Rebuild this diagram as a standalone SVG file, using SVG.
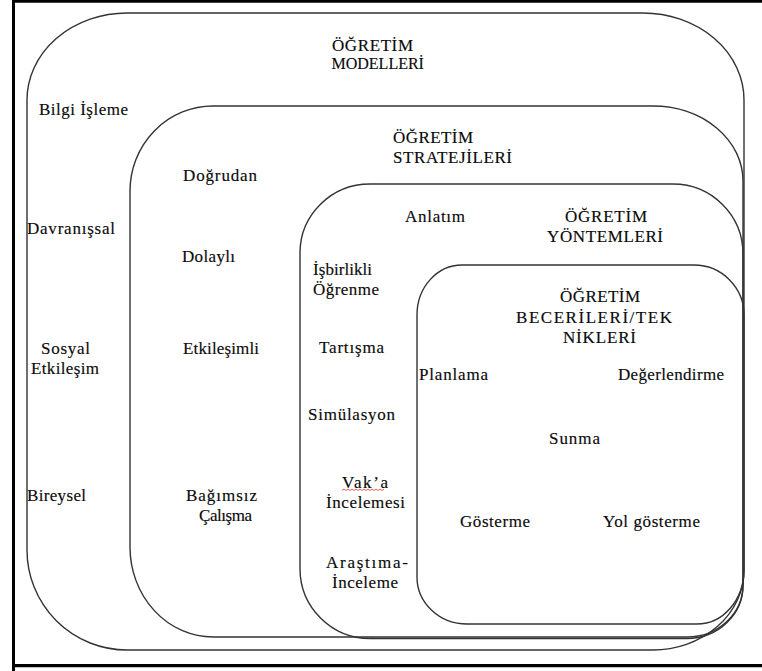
<svg xmlns="http://www.w3.org/2000/svg" width="762" height="671" viewBox="0 0 762 671">
<style>
.box{fill:none;stroke:#333;stroke-width:1.4}
text{font-family:"Liberation Serif","Times New Roman",serif;font-size:17px;fill:#0a0a0a;stroke:#0a0a0a;stroke-width:0.15}
</style>
<rect width="762" height="671" fill="#fff"/>
<g id="frame">
<path d="M13.5,671 V1.2 H765" fill="none" stroke="#000" stroke-width="3"/>
<path d="M12,665.6 H765" fill="none" stroke="#000" stroke-width="3.2"/>
</g>
<g id="modeller">
<path class="box" d="M127,13 H643 A101,87 0 0 1 744,100 V570 A91,80 0 0 1 653,650 H127 A100,100 0 0 1 27,550 V100 A100,87 0 0 1 127,13 Z"/>
<text x="332" y="51" textLength="81" lengthAdjust="spacing">ÖĞRETİM</text>
<text x="331.5" y="69" style="font-size:16px">MODELLERİ</text>
<text x="39" y="115" textLength="89" lengthAdjust="spacing">Bilgi İşleme</text>
<text x="27" y="234" textLength="88" lengthAdjust="spacing">Davranışsal</text>
<text x="41" y="354" textLength="49" lengthAdjust="spacing">Sosyal</text>
<text x="31" y="374" textLength="68" lengthAdjust="spacing">Etkileşim</text>
<text x="27" y="501" textLength="59" lengthAdjust="spacing">Bireysel</text>
</g>
<g id="stratejiler">
<path class="box" d="M213,106 H653 A90,75 0 0 1 743,181 V585 A56,52 0 0 1 687,637 H213 A83,90 0 0 1 130,547 V191 A83,85 0 0 1 213,106 Z"/>
<text x="393" y="143" textLength="80" lengthAdjust="spacing">ÖĞRETİM</text>
<text x="393" y="163" textLength="119" lengthAdjust="spacing">STRATEJİLERİ</text>
<text x="183" y="181" textLength="74" lengthAdjust="spacing">Doğrudan</text>
<text x="182" y="262" textLength="53" lengthAdjust="spacing">Dolaylı</text>
<text x="183" y="354" textLength="76" lengthAdjust="spacing">Etkileşimli</text>
<text x="186" y="501" textLength="71" lengthAdjust="spacing">Bağımsız</text>
<text x="199" y="521" textLength="53" lengthAdjust="spacing">Çalışma</text>
</g>
<g id="yontemler">
<path class="box" d="M370,184 H673 A70,70 0 0 1 743,254 V585 A56,53 0 0 1 687,638.5 H370 A70,70 0 0 1 300,568.5 V253 A70,69 0 0 1 370,184 Z"/>
<text x="565" y="222" textLength="82" lengthAdjust="spacing">ÖĞRETİM</text>
<text x="547" y="242" textLength="116" lengthAdjust="spacing">YÖNTEMLERİ</text>
<text x="405" y="222" textLength="60" lengthAdjust="spacing">Anlatım</text>
<text x="313" y="275" textLength="59" lengthAdjust="spacing">İşbirlikli</text>
<text x="313" y="295" textLength="66" lengthAdjust="spacing">Öğrenme</text>
<text x="319" y="353" textLength="65" lengthAdjust="spacing">Tartışma</text>
<text x="308" y="420" textLength="87" lengthAdjust="spacing">Simülasyon</text>
<text x="342" y="488" textLength="46" lengthAdjust="spacing">Vak’a</text>
<path d="M342,490.5 l2,-1.5 l2,1.5 l2,-1.5 l2,1.5 l2,-1.5 l2,1.5 l2,-1.5 l2,1.5 l2,-1.5 l2,1.5 l2,-1.5 l2,1.5 l2,-1.5 l2,1.5 l2,-1.5 l2,1.5 l2,-1.5 l2,1.5 l2,-1.5 l2,1.5 l2,-1.5" fill="none" stroke="#d33" stroke-width="0.8"/>
<text x="326" y="508" textLength="79" lengthAdjust="spacing">İncelemesi</text>
<text x="326" y="568" textLength="82" lengthAdjust="spacing">Araştıma-</text>
<text x="332" y="588" textLength="66" lengthAdjust="spacing">İnceleme</text>
</g>
<g id="beceriler">
<path class="box" d="M462,265 H694 A50,50 0 0 1 744,315 V570 A47,54 0 0 1 697,624 H467 A50,47 0 0 1 417,577 V315 A45,50 0 0 1 462,265 Z"/>
<text x="560" y="302" textLength="80" lengthAdjust="spacing">ÖĞRETİM</text>
<text x="516" y="323" textLength="156" lengthAdjust="spacing">BECERİLERİ/TEK</text>
<text x="563" y="343" textLength="73" lengthAdjust="spacing">NİKLERİ</text>
<text x="419" y="380" textLength="69" lengthAdjust="spacing">Planlama</text>
<text x="618" y="380" textLength="106" lengthAdjust="spacing">Değerlendirme</text>
<text x="549" y="444" textLength="51" lengthAdjust="spacing">Sunma</text>
<text x="460" y="527" textLength="70" lengthAdjust="spacing">Gösterme</text>
<text x="603" y="527" textLength="97" lengthAdjust="spacing">Yol gösterme</text>
</g>
<g id="connectors"></g>
</svg>
